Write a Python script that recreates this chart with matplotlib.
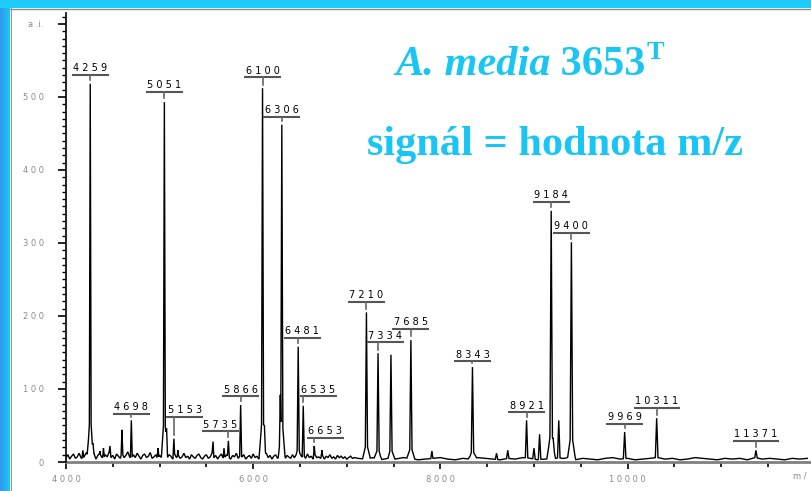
import numpy as np
import matplotlib
matplotlib.use("Agg")
import matplotlib.pyplot as plt
from matplotlib.colors import LinearSegmentedColormap
from matplotlib.lines import Line2D

# ---------------- data ----------------
# peak positions (m/z) and intensities (a.i.)
peak_mz = [4180, 4259, 4290, 4363, 4400, 4470, 4598, 4698, 4983, 5051, 5075,
           5153, 5196, 5571, 5688, 5735, 5866, 6100, 6120, 6306, 6290, 6481,
           6535, 6653, 6735, 7210, 7334, 7472, 7685, 7910, 8343, 8600, 8720,
           8921, 9000, 9060, 9184, 9205, 9265, 9400, 9969, 10311, 11371]
peak_int = [16, 518, 25, 15, 19, 22, 44, 57, 19, 493, 46,
            32, 16, 28, 19, 29, 78, 512, 50, 462, 92, 158,
            77, 22, 16, 205, 149, 147, 167, 15, 130, 12, 16,
            57, 19, 38, 344, 33, 57, 301, 41, 60, 16]

# labelled peaks
label_mz = [4259, 4698, 5051, 5153, 5735, 5866, 6100, 6306, 6481, 6535, 6653,
            7210, 7334, 7685, 8343, 8921, 9184, 9400, 9969, 10311, 11371]

# baseline noise (a.i.)
baseline_low_int = [6, 10, 4, 8, 11, 5, 7, 12, 6, 4, 9, 13, 5, 8, 6, 11, 4, 9, 12, 7,
                    5, 10, 7, 13, 6, 9, 4, 11, 8, 5, 12, 6, 9, 14, 7, 5, 10, 6, 12, 8,
                    4, 9, 11, 6, 8, 13, 5, 7, 10, 4, 9, 6, 12, 7, 5, 10, 8, 4, 11, 6,
                    9, 5, 7, 12, 6, 8, 4, 10, 7, 5, 9, 11, 6, 4, 8, 10, 5, 7, 12, 6,
                    9, 4, 8, 11, 5, 7, 10, 6, 4, 9, 7, 12, 5, 8, 6, 10, 4, 7, 9, 5,
                    11, 6, 8, 4, 10, 7, 5, 12, 6, 9, 4, 8, 10, 5, 7, 11, 6, 4, 9, 7,
                    5, 10, 6, 8, 12, 4, 7, 9, 5, 11, 6, 8, 4, 10, 6, 7, 5, 9, 4, 8,
                    6, 10, 5, 7, 4, 9, 6, 8, 5, 7, 4, 6, 8, 5, 6]
baseline_high_int = [5, 4, 6, 3, 5, 4, 6, 5, 3, 4, 5, 6, 4, 3, 5, 4, 6, 5, 4, 3,
                     5, 4, 6, 5, 3, 4, 5, 4, 6, 3, 5, 4, 3, 5, 6, 4, 5, 3, 4, 5,
                     6, 4, 5, 3, 4, 6, 5, 4, 3, 5, 4, 5, 3, 6, 4, 5, 4, 3, 5, 4, 5]

x_ticks = [4000, 6000, 8000, 10000]
x_tick_labels = ["4000", "6000", "8000", "10000"]
y_ticks = [0, 100, 200, 300, 400, 500, 600]
y_tick_labels = ["0", "100", "200", "300", "400", "500", "a.i."]

title_line1 = ("A. media", "3653", "T")
title_line2 = "signál = hodnota m/z"

# ---------------- layout ----------------
W, H = 811, 491
label_dx = {5153: 118, 5735: -85, 6481: 43, 6535: 160, 6653: 118, 7334: 75}
label_level = [530, 66, 507, 62, 42, 90, 527, 473, 170, 90, 33,
               219, 164, 182, 138, 68, 356, 314, 52, 74, 29]
XMIN, XMAX = 4000, 11960
YMIN, YMAX = 0, 615
CYAN = "#19c6f3"
GRAY = "#8a8a8a"


def spaced(s):
    return " ".join(s)


fig = plt.figure(figsize=(W / 100, H / 100), dpi=100)
fig.patch.set_facecolor("white")

# border decoration
grad = np.linspace(0, 1, 64).reshape(1, -1)
bax = fig.add_axes([0, 0, 10 / W, 1])
bax.imshow(grad, aspect="auto",
           cmap=LinearSegmentedColormap.from_list("b", ["#3096ee", "#1ccaf8"]))
bax.axis("off")
tax = fig.add_axes([0, 1 - 8 / H, 1, 8 / H])
tax.imshow(grad.T, aspect="auto",
           cmap=LinearSegmentedColormap.from_list("t", ["#22c8f8", "#18d0fa"]))
tax.axis("off")
fig.add_artist(Line2D([10 / W, 1], [1 - 8.5 / H, 1 - 8.5 / H], color="#8a8a8a",
                      lw=1, transform=fig.transFigure))
fig.add_artist(Line2D([10.5 / W, 10.5 / W], [0, 1 - 8 / H], color="#9a9a9a",
                      lw=0.8, transform=fig.transFigure))

ax = fig.add_axes([66 / W, 29 / H, (W - 66) / W, (462 - 13) / H])
ax.set_xlim(XMIN, XMAX)
ax.set_ylim(YMIN, YMAX)
ax.patch.set_alpha(0)

# ---------------- spectrum trace ----------------
bx = np.concatenate([np.arange(4000, 7100, 20), np.arange(7120, 11960, 80)])
by = np.array(baseline_low_int + baseline_high_int, dtype=float)

shapes = []
for m, h in zip(peak_mz, peak_int):
    w = 6 + m * 0.0008
    sx = np.array([m - 3.5 * w, m - w, m, m + w, m + 3.5 * w])
    sy = np.array([0, 0.1 * h, h, 0.1 * h, 0])
    shapes.append((sx, sy))

gx = np.unique(np.concatenate([bx] + [s[0] for s in shapes]))
gx = gx[(gx >= XMIN) & (gx <= XMAX)]
gy = np.interp(gx, bx, by)
for sx, sy in shapes:
    v = np.interp(gx, sx, sy, left=0, right=0)
    gy = np.maximum(gy, v)
ax.plot(gx, gy, color="black", lw=1.0, solid_joinstyle="miter", zorder=3)

# ---------------- peak labels ----------------
pk = dict(zip(peak_mz, peak_int))
for m, lvl in zip(label_mz, label_level):
    txt = str(m)
    cx = m + label_dx.get(m, 0)
    hw = (len(txt) * 9 + 1) / 2 / 0.0936
    ax.plot([cx - hw, cx + hw], [lvl, lvl], color="#555555", lw=1.5,
            solid_capstyle="butt", zorder=4)
    ax.plot([m, m], [lvl, pk[m] + 5], color="#666666", lw=1.2, zorder=4)
    ax.annotate(spaced(txt), (cx, lvl), xytext=(0, 1.2), textcoords="offset points",
                ha="center", va="bottom", fontsize=7, color="black",
                family="DejaVu Sans", zorder=5)

# ---------------- axes styling ----------------
for s in ("top", "right"):
    ax.spines[s].set_visible(False)
ax.spines["left"].set_color("black")
ax.spines["left"].set_linewidth(1.2)
ax.spines["bottom"].set_color("#808080")
ax.spines["bottom"].set_linewidth(2)
ax.spines["bottom"].set_zorder(2)

ax.set_xticks(x_ticks)
ax.set_xticklabels([spaced(t) for t in x_tick_labels])
ax.set_xticks(np.arange(4500, 11960, 500), minor=True)
ax.set_yticks(y_ticks)
ax.set_yticklabels([spaced(t) if t != "a.i." else "a .i." for t in y_tick_labels])
ax.set_yticks(np.arange(0, 611, 10), minor=True)
ax.tick_params(axis="x", which="major", direction="out", length=5, width=1.2,
               color="black", labelcolor=GRAY, labelsize=6, pad=4)
ax.tick_params(axis="x", which="minor", direction="out", length=3.5, width=1.2,
               color="black")
ax.tick_params(axis="y", which="major", direction="out", length=6, width=1.2,
               color="black", labelcolor=GRAY, labelsize=6, pad=10)
ax.tick_params(axis="y", which="minor", direction="out", length=3, width=1.0,
               color="black")

fig.text(793 / W, 1 - 476 / H, "m /", fontsize=6, color=GRAY, va="center",
         ha="left", family="DejaVu Sans")

# ---------------- title text ----------------
fs = 30.5
t1 = fig.text(395 / W, 1 - 75 / H, title_line1[0], fontsize=fs, color=CYAN,
              family="Liberation Serif", weight="bold", style="italic",
              va="baseline", ha="left")
t2 = ax.annotate(" " + title_line1[1], xy=(1, 0), xycoords=t1, va="bottom",
                 ha="left", fontsize=fs, color=CYAN, family="Liberation Serif",
                 weight="bold")
t3 = ax.annotate(title_line1[2], xy=(1, 1), xycoords=t2, xytext=(0.5, 3.5),
                 textcoords="offset points", va="top", ha="left", fontsize=19,
                 color=CYAN, family="Liberation Serif", weight="bold")
fig.text(367 / W, 1 - 155 / H, title_line2, fontsize=fs, color=CYAN,
         family="Liberation Serif", weight="bold", va="baseline", ha="left")

fig.savefig("out.png", dpi=100)
